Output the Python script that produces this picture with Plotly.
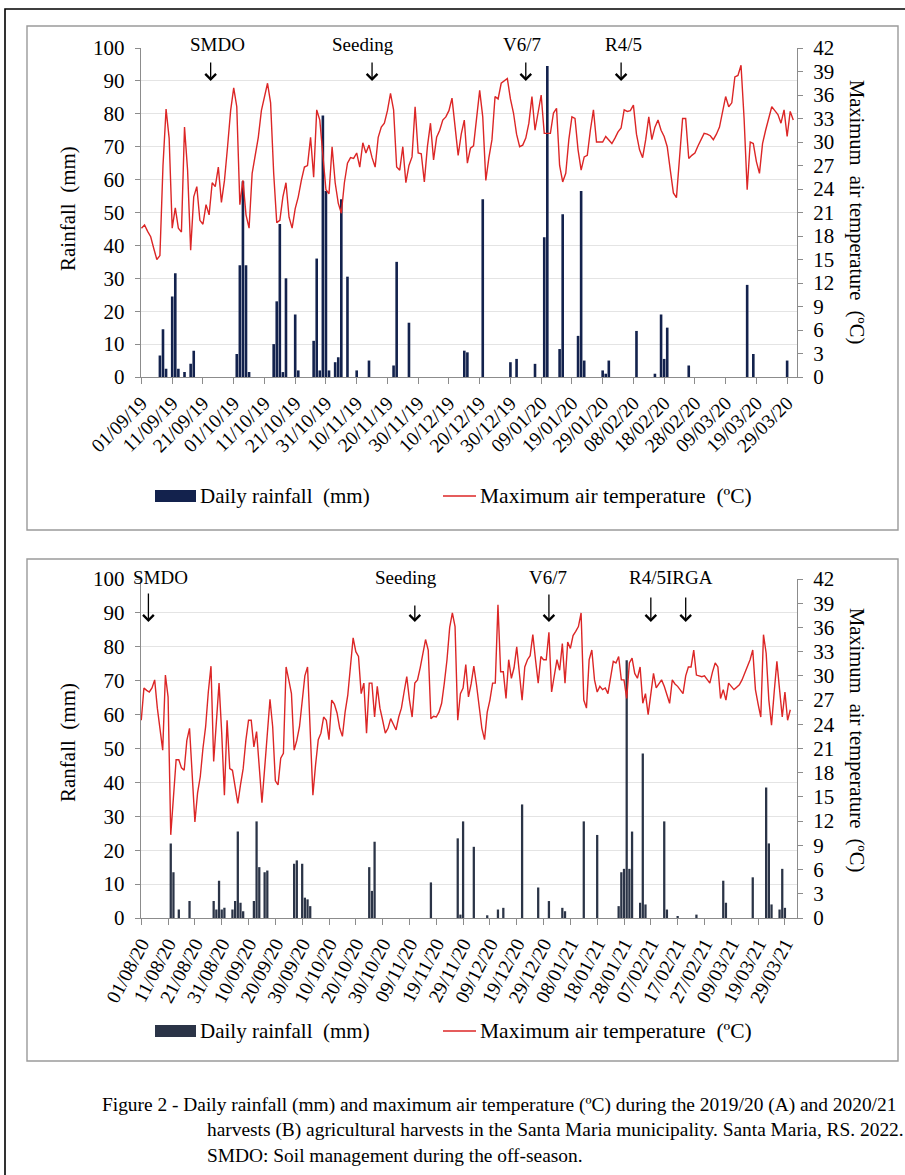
import plotly.graph_objects as go
import pandas as pd

W, H = 905, 1175
FONT = "Liberation Serif, Times New Roman, serif"

# ---------------- Panel A (2019/20) ----------------
a_start = "2019-09-01"
a_temp = [
    19.0, 19.4, 18.6, 17.9, 16.4, 15.0, 15.5, 27.0, 34.2, 30.5,
    19.0, 21.6, 19.0, 18.5, 31.9, 26.4, 16.2, 23.0, 24.3, 20.0,
    19.5, 22.0, 20.7, 24.8, 24.3, 26.8, 22.3, 25.1, 29.4, 34.0,
    36.9, 34.5, 22.0, 25.1, 20.7, 19.0, 26.0, 28.1, 30.6, 34.0,
    35.8, 37.5, 35.0, 26.0, 19.7, 20.0, 23.0, 24.8, 20.4, 19.0,
    21.5, 23.0, 25.1, 26.8, 27.0, 30.6, 25.5, 34.1, 32.8, 28.1,
    23.9, 23.4, 29.4, 24.8, 22.2, 20.9, 24.8, 27.3, 28.0, 27.9,
    28.6, 26.8, 29.9, 28.6, 29.6, 28.0, 26.8, 30.6, 31.9, 32.4,
    34.0, 36.2, 34.1, 26.8, 26.4, 29.4, 24.8, 27.0, 28.1, 34.5,
    28.6, 28.5, 24.9, 29.4, 32.4, 27.7, 30.6, 31.5, 32.8, 33.2,
    34.0, 35.6, 31.5, 28.3, 31.0, 32.8, 27.3, 29.2, 29.5, 33.0,
    36.6, 33.2, 25.1, 28.0, 30.3, 35.8, 35.5, 37.5, 37.8, 38.1,
    35.5, 33.7, 31.0, 29.4, 29.6, 30.5, 32.4, 35.8, 31.5, 33.5,
    36.0, 31.1, 31.1, 31.1, 33.7, 34.3, 27.0, 24.9, 26.0, 30.3,
    33.2, 33.0, 29.0, 26.4, 28.1, 28.3, 31.5, 34.1, 30.0, 30.0,
    30.0, 30.7, 30.2, 29.8, 30.5, 31.3, 31.8, 34.1, 33.9, 34.0,
    34.7, 31.0, 29.0, 28.0, 30.3, 33.2, 30.3, 31.9, 32.8, 31.5,
    30.7, 29.4, 26.4, 23.5, 22.9, 27.7, 33.0, 33.0, 27.9, 28.3,
    28.6, 29.5, 30.3, 31.1, 31.0, 30.8, 30.3, 31.0, 31.9, 34.0,
    35.8, 34.5, 35.0, 38.3, 38.5, 39.8, 33.0, 23.9, 30.0, 29.8,
    27.5, 26.0, 29.8, 31.5, 33.0, 34.5, 34.0, 33.5, 32.4, 34.1,
    30.7, 33.9, 32.8,
]
a_rain_dates = [
    "2019-09-07", "2019-09-08", "2019-09-09", "2019-09-11", "2019-09-12", "2019-09-13",
    "2019-09-15", "2019-09-17", "2019-09-18", "2019-10-02", "2019-10-03", "2019-10-04",
    "2019-10-05", "2019-10-06", "2019-10-14", "2019-10-15", "2019-10-16", "2019-10-17",
    "2019-10-18", "2019-10-21", "2019-10-22", "2019-10-27", "2019-10-28", "2019-10-29",
    "2019-10-30", "2019-10-31", "2019-11-01", "2019-11-03", "2019-11-04", "2019-11-05",
    "2019-11-07", "2019-11-10", "2019-11-14", "2019-11-22", "2019-11-23", "2019-11-27",
    "2019-12-15", "2019-12-16", "2019-12-21", "2019-12-30", "2020-01-01", "2020-01-07",
    "2020-01-10", "2020-01-11", "2020-01-15", "2020-01-16", "2020-01-21", "2020-01-22",
    "2020-01-23", "2020-01-29", "2020-01-30", "2020-01-31", "2020-02-09", "2020-02-15",
    "2020-02-17", "2020-02-18", "2020-02-19", "2020-02-26", "2020-03-16", "2020-03-18",
    "2020-03-29",
]
a_rain_mm = [
    6.5, 14.5, 2.5, 24.5, 31.5, 2.5,
    1.5, 4.0, 8.0, 7.0, 34.0, 59.5,
    34.0, 1.5, 10.0, 23.0, 46.5, 1.5,
    30.0, 19.0, 2.0, 11.0, 36.0, 2.0,
    79.5, 56.5, 2.0, 4.5, 6.0, 54.0,
    30.5, 2.0, 5.0, 3.5, 35.0, 16.5,
    8.0, 7.5, 54.0, 4.5, 5.5, 4.0,
    42.5, 94.5, 8.5, 49.5, 12.5, 56.5,
    5.0, 2.0, 1.0, 5.0, 14.0, 1.0,
    19.0, 5.5, 15.0, 3.5, 28.0, 7.0,
    5.0,
]
a_ticktext = ["01/09/19", "11/09/19", "21/09/19", "01/10/19", "11/10/19", "21/10/19",
              "31/10/19", "10/11/19", "20/11/19", "30/11/19", "10/12/19", "20/12/19",
              "30/12/19", "09/01/20", "19/01/20", "29/01/20", "08/02/20", "18/02/20",
              "28/02/20", "09/03/20", "19/03/20", "29/03/20"]
a_stage_labels = ["SMDO", "Seeding", "V6/7", "R4/5"]
a_stage_dates = ["2019-09-23 12:00", "2019-11-15", "2020-01-04", "2020-02-04"]

# ---------------- Panel B (2020/21) ----------------
b_start = "2020-08-01"
b_temp = [
    24.5, 28.5, 28.2, 28.0, 28.5, 29.5, 26.0, 23.0, 20.8, 30.1,
    27.4, 10.3, 15.0, 19.6, 19.6, 18.6, 18.3, 22.0, 23.5, 17.0,
    11.9, 15.5, 17.5, 21.0, 23.7, 28.0, 31.2, 19.4, 25.0, 29.1,
    22.9, 15.2, 24.5, 18.5, 18.3, 16.0, 14.2, 16.5, 18.5, 22.0,
    24.5, 24.5, 21.2, 23.1, 19.0, 14.3, 18.5, 23.0, 27.1, 23.7,
    17.0, 16.5, 19.8, 20.4, 31.1, 29.5, 27.8, 20.8, 22.0, 23.7,
    27.0, 30.0, 31.1, 22.0, 15.2, 19.0, 22.1, 22.9, 24.9, 24.5,
    22.1, 27.0, 26.5, 25.4, 23.5, 22.5, 25.5, 27.6, 31.0, 34.7,
    33.0, 32.4, 27.8, 29.1, 22.9, 29.1, 29.1, 24.9, 28.7, 26.0,
    24.5, 22.9, 23.5, 24.7, 24.0, 23.3, 24.9, 26.0, 28.0, 29.9,
    27.0, 24.9, 29.1, 29.5, 31.0, 33.0, 34.5, 33.2, 24.7, 25.0,
    24.9, 25.5, 26.6, 29.1, 32.0, 36.0, 37.8, 36.1, 24.5, 27.8,
    28.5, 31.4, 27.4, 29.0, 31.2, 28.9, 26.0, 23.5, 22.1, 25.5,
    27.0, 29.1, 29.1, 38.8, 30.5, 30.5, 27.2, 32.0, 29.7, 31.0,
    33.6, 30.0, 27.0, 31.1, 32.0, 32.5, 35.1, 32.0, 29.1, 32.4,
    32.0, 32.0, 35.4, 28.0, 30.0, 32.0, 30.7, 34.0, 29.1, 34.2,
    33.4, 35.0, 35.5, 36.1, 37.8, 27.0, 26.0, 32.0, 33.2, 29.5,
    28.0, 28.7, 28.3, 28.5, 27.8, 30.0, 31.8, 31.6, 32.4, 29.5,
    29.5, 27.2, 31.6, 32.2, 30.3, 29.7, 31.1, 26.6, 27.8, 25.2,
    28.0, 30.3, 28.5, 29.0, 29.5, 28.7, 27.5, 26.6, 29.5, 29.0,
    28.7, 28.3, 27.8, 30.0, 31.1, 31.1, 33.2, 30.1, 30.0, 29.9,
    30.0, 29.5, 29.1, 30.5, 31.6, 31.1, 27.2, 28.3, 27.0, 29.1,
    28.7, 28.3, 28.6, 28.9, 29.5, 30.3, 31.1, 32.0, 33.2, 28.3,
    26.5, 24.9, 35.1, 32.8, 27.0, 23.9, 28.0, 31.8, 28.3, 24.9,
    28.0, 24.5, 25.8,
]
b_rain_dates = [
    "2020-08-12", "2020-08-13", "2020-08-15", "2020-08-19", "2020-08-28", "2020-08-29",
    "2020-08-30", "2020-08-31", "2020-09-01", "2020-09-04", "2020-09-05", "2020-09-06",
    "2020-09-07", "2020-09-08", "2020-09-12", "2020-09-13", "2020-09-14", "2020-09-16",
    "2020-09-17", "2020-09-27", "2020-09-28", "2020-09-30", "2020-10-01", "2020-10-02",
    "2020-10-03", "2020-10-25", "2020-10-26", "2020-10-27", "2020-11-17", "2020-11-27",
    "2020-11-28", "2020-11-29", "2020-12-03", "2020-12-08", "2020-12-12", "2020-12-14",
    "2020-12-21", "2020-12-27", "2020-12-31", "2021-01-05", "2021-01-06", "2021-01-13",
    "2021-01-18", "2021-01-26", "2021-01-27", "2021-01-28", "2021-01-29", "2021-01-30",
    "2021-01-31", "2021-02-03", "2021-02-04", "2021-02-05", "2021-02-12", "2021-02-13",
    "2021-02-17", "2021-02-24", "2021-03-06", "2021-03-07", "2021-03-17", "2021-03-22",
    "2021-03-23", "2021-03-24", "2021-03-27", "2021-03-28", "2021-03-29",
]
b_rain_mm = [
    22.0, 13.5, 2.5, 5.0, 5.0, 2.5,
    11.0, 2.5, 3.0, 2.5, 5.0, 25.5,
    4.5, 2.0, 5.0, 28.5, 15.0, 13.5,
    14.0, 16.0, 17.0, 16.0, 6.0, 5.5,
    3.5, 15.0, 8.0, 22.5, 10.5, 23.5,
    1.0, 28.5, 21.0, 0.8, 2.5, 3.0,
    33.5, 9.0, 5.0, 3.0, 2.0, 28.5,
    24.5, 3.5, 13.5, 14.5, 76.0, 14.5,
    25.5, 4.5, 48.5, 4.0, 28.5, 2.5,
    0.6, 1.0, 11.0, 4.5, 12.0, 38.5,
    22.0, 4.0, 2.5, 14.5, 3.0,
]
b_ticktext = ["01/08/20", "11/08/20", "21/08/20", "31/08/20", "10/09/20", "20/09/20",
              "30/09/20", "10/10/20", "20/10/20", "30/10/20", "09/11/20", "19/11/20",
              "29/11/20", "09/12/20", "19/12/20", "29/12/20", "08/01/21", "18/01/21",
              "28/01/21", "07/02/21", "17/02/21", "27/02/21", "09/03/21", "19/03/21",
              "29/03/21"]
b_stage_labels = ["SMDO", "Seeding", "V6/7", "R4/5", "IRGA"]
b_stage_dates = ["2020-08-03 16:00", "2020-11-11", "2020-12-31", "2021-02-07", "2021-02-20"]

caption_lines = [
    "Figure 2 - Daily rainfall (mm) and maximum air temperature (ºC) during the 2019/20 (A) and 2020/21",
    "harvests (B) agricultural harvests in the Santa Maria municipality. Santa Maria, RS. 2022.",
    "SMDO: Soil management during the off-season.",
]

# ---------------- styling ----------------
BAR_A = "#13224d"
BAR_B = "#2b3447"
RED = "#dc2626"
AXIS = "#8c8c8c"
GRID = "#e4e4e4"


def px(x):
    return x / W


def py(y):
    return 1 - y / H


DAY_MS = 86400000
XDOM = [px(140.7), px(797)]
A_DOM = [py(377), py(48)]
B_DOM = [py(918), py(579)]

a_dates = pd.date_range(a_start, periods=len(a_temp), freq="D")
b_dates = pd.date_range(b_start, periods=len(b_temp), freq="D")

fig = go.Figure()
fig.add_trace(go.Bar(x=a_rain_dates, y=a_rain_mm, width=0.85 * DAY_MS, marker=dict(color=BAR_A, line=dict(width=0)),
                     xaxis="x", yaxis="y", showlegend=False))
fig.add_trace(go.Scatter(x=a_dates, y=a_temp, mode="lines", line=dict(color=RED, width=1.4),
                         xaxis="x", yaxis="y2", showlegend=False))
fig.add_trace(go.Bar(x=b_rain_dates, y=b_rain_mm, width=0.85 * DAY_MS, marker=dict(color=BAR_B, line=dict(width=0)),
                     xaxis="x2", yaxis="y3", showlegend=False))
fig.add_trace(go.Scatter(x=b_dates, y=b_temp, mode="lines", line=dict(color=RED, width=1.4),
                         xaxis="x2", yaxis="y4", showlegend=False))


def xaxis_cfg(anchor, ticktext, rng, angle):
    tickvals = list(pd.to_datetime(ticktext, format="%d/%m/%y"))
    return dict(domain=XDOM, anchor=anchor, type="date", range=rng, tickmode="array",
                tickvals=tickvals, ticktext=ticktext, tickangle=angle, automargin=False,
                ticks="outside", ticklen=6, tickcolor=AXIS, showline=True, linecolor=AXIS,
                linewidth=1, showgrid=False, zeroline=False,
                tickfont=dict(family=FONT, size=19.5, color="black"))


def left_cfg(anchor, dom):
    return dict(domain=dom, anchor=anchor, range=[0, 100], dtick=10, tick0=0, automargin=False,
                ticks="outside", ticklen=5, tickcolor=AXIS, showline=True, linecolor=AXIS,
                showgrid=True, gridcolor=GRID, gridwidth=1, zeroline=False,
                ticklabelstandoff=6,
                tickfont=dict(family=FONT, size=21, color="black"))


def right_cfg(anchor, over):
    return dict(overlaying=over, side="right", anchor=anchor, range=[0, 42], dtick=3, tick0=0,
                automargin=False,
                ticks="outside", ticklen=5, tickcolor=AXIS, showline=True, linecolor=AXIS,
                showgrid=False, zeroline=False, ticklabelstandoff=6,
                tickfont=dict(family=FONT, size=21, color="black"))


shapes = []
annotations = []

# frames
shapes.append(dict(type="rect", xref="paper", yref="paper", x0=px(5), x1=px(915), y0=py(1190), y1=py(9),
                   line=dict(color="black", width=1.6), fillcolor="rgba(0,0,0,0)", layer="below"))
for top, bot in [(26, 530), (559, 1061)]:
    shapes.append(dict(type="rect", xref="paper", yref="paper", x0=px(27), x1=px(898), y0=py(bot), y1=py(top),
                       line=dict(color="#9a9a9a", width=1.4), fillcolor="rgba(0,0,0,0)", layer="below"))


def txt(x, y, s, size=19, angle=0, xanchor="center"):
    annotations.append(dict(x=px(x), y=py(y), xref="paper", yref="paper", text=s, showarrow=False,
                            textangle=angle, xanchor=xanchor, yanchor="middle",
                            font=dict(family=FONT, size=size, color="black")))


def arrow(xref, date, tip_y, length):
    annotations.append(dict(x=date, y=py(tip_y), xref=xref, yref="paper", text="", showarrow=True,
                            ax=0, ay=-length, arrowhead=4, arrowsize=1.6, arrowwidth=1.3,
                            arrowcolor="black"))


# stage labels A
for lab, xc in zip(a_stage_labels, [217, 363, 522, 623]):
    txt(xc, 45, lab)
for d in a_stage_dates:
    arrow("x", d, 81, 20)

# stage labels B
txt(160, 577, b_stage_labels[0])
txt(406, 577, b_stage_labels[1])
txt(548, 577, b_stage_labels[2])
txt(671, 577, b_stage_labels[3] + b_stage_labels[4])
for d, ln in zip(b_stage_dates, [30, 18, 29, 26, 26]):
    arrow("x2", d, 622, ln)

# axis titles
txt(68, 209, "Rainfall  (mm)", size=21, angle=-90)
txt(857, 212, "Maximum  air temperature  (ºC)", size=20.5, angle=90)
txt(68, 743, "Ranfall  (mm)", size=21, angle=-90)
txt(857, 740, "Maximum  air temperature  (ºC)", size=20.5, angle=90)

# legends
for ly, col in [(496, BAR_A), (1031, BAR_B)]:
    shapes.append(dict(type="rect", xref="paper", yref="paper", x0=px(155), x1=px(196),
                       y0=py(ly + 6), y1=py(ly - 6), fillcolor=col, line=dict(width=0)))
    txt(198, ly, "Daily rainfall  (mm)", size=21, xanchor="left")
    shapes.append(dict(type="line", xref="paper", yref="paper", x0=px(443), x1=px(476),
                       y0=py(ly), y1=py(ly), line=dict(color=RED, width=1.3)))
    txt(478, ly, "Maximum air temperature  (ºC)", size=21.5, xanchor="left")

# caption
txt(100, 1105, caption_lines[0], size=19.4, xanchor="left")
txt(205, 1130, caption_lines[1], size=19.4, xanchor="left")
txt(205, 1155, caption_lines[2], size=19.4, xanchor="left")

fig.update_layout(
    width=W, height=H, margin=dict(l=0, r=0, t=0, b=0, pad=0, autoexpand=False),
    paper_bgcolor="white", plot_bgcolor="white",
    bargap=0.1, barmode="overlay", showlegend=False,
    font=dict(family=FONT, color="black"),
    xaxis=xaxis_cfg("y", a_ticktext, ["2019-08-31 18:00", "2020-04-01 05:00"], -45),
    yaxis=left_cfg("x", A_DOM),
    yaxis2=right_cfg("x", "y"),
    xaxis2=xaxis_cfg("y3", b_ticktext, ["2020-07-31 19:00", "2021-04-02 12:00"], -62),
    yaxis3=left_cfg("x2", B_DOM),
    yaxis4=right_cfg("x2", "y3"),
    shapes=shapes, annotations=annotations,
)

fig.write_html("out.html", config={"displayModeBar": False},
               post_script="document.body.style.margin='0';document.body.style.overflow='hidden';")
